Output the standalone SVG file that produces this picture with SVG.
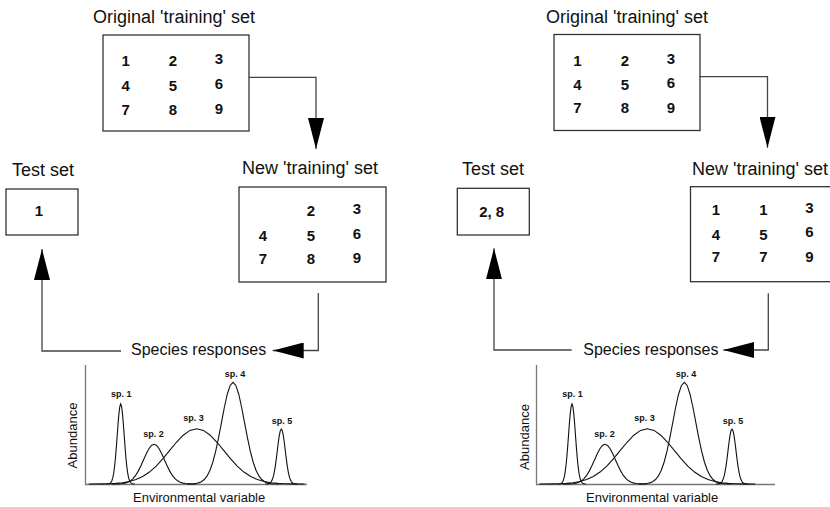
<svg xmlns="http://www.w3.org/2000/svg" xmlns:xlink="http://www.w3.org/1999/xlink" width="830" height="507" viewBox="0 0 830 507">
<style>
text{font-family:"Liberation Sans",Arial,Helvetica,sans-serif;fill:#111}
.title{font-size:18px}
.num{font-size:15px;font-weight:bold;text-anchor:middle}
.sr{font-size:16px}
.ax{font-size:13px}
.sp{font-size:9px;font-weight:bold}
.box{fill:#fff;stroke:#333;stroke-width:1.3}
.conn{fill:none;stroke:#444;stroke-width:1.3}
.axis{fill:none;stroke:#777;stroke-width:1.3}
.curve{fill:none;stroke:#111;stroke-width:1.1}
</style>
<defs>
<marker id="arrow" markerUnits="userSpaceOnUse" viewBox="0 0 31 16" markerWidth="31" markerHeight="16" refX="31" refY="8" orient="auto">
<path d="M0,0 L31,8 L0,16 z" fill="#000"/>
</marker>
<path id="gauss" vector-effect="non-scaling-stroke" d="M-4,0 L-3.5,-0.0022 L-3.25,-0.0051 L-3,-0.0111 L-2.75,-0.0228 L-2.5,-0.0439 L-2.25,-0.0796 L-2,-0.1353 L-1.75,-0.2163 L-1.5,-0.3247 L-1.25,-0.4578 L-1,-0.6065 L-0.75,-0.7548 L-0.5,-0.8825 L-0.25,-0.9692 L0,-1 L0.25,-0.9692 L0.5,-0.8825 L0.75,-0.7548 L1,-0.6065 L1.25,-0.4578 L1.5,-0.3247 L1.75,-0.2163 L2,-0.1353 L2.25,-0.0796 L2.5,-0.0439 L2.75,-0.0228 L3,-0.0111 L3.25,-0.0051 L3.5,-0.0022 L4,0"/>
</defs>

<!-- LEFT PANEL -->
<g id="left-panel">
<g id="orig-L">
<text class="title" x="93" y="23">Original 'training' set</text>
<rect class="box" x="103" y="35" width="146" height="96"/>
<text class="num" x="125.7" y="66">1</text><text class="num" x="173" y="66">2</text><text class="num" x="219" y="64">3</text>
<text class="num" x="125.7" y="91">4</text><text class="num" x="173" y="91">5</text><text class="num" x="219" y="89">6</text>
<text class="num" x="125.7" y="114.5">7</text><text class="num" x="173" y="114.5">8</text><text class="num" x="219" y="113.5">9</text>
</g>
<g id="test-L">
<text class="title" x="12" y="176">Test set</text>
<rect class="box" x="6" y="189" width="72" height="46"/>
<text class="num" x="39" y="216">1</text>
</g>
<g id="new-L">
<text class="title" x="242" y="174">New 'training' set</text>
<rect class="box" x="239" y="187" width="147" height="95"/>
<text class="num" x="311" y="216">2</text><text class="num" x="357" y="214">3</text>
<text class="num" x="263" y="241">4</text><text class="num" x="311" y="241">5</text><text class="num" x="357" y="239">6</text>
<text class="num" x="263" y="264">7</text><text class="num" x="311" y="264">8</text><text class="num" x="357" y="263">9</text>
</g>
<g id="species-L">
<text class="sr" x="131" y="355">Species responses</text>
</g>
<g id="plot-L">
<path class="axis" d="M85.5,365 V484.5 H307"/>
<text class="ax" transform="translate(76.5,435.5) rotate(-90)" text-anchor="middle">Abundance</text>
<text class="ax" x="133" y="501.5">Environmental variable</text>
<use xlink:href="#gauss" class="curve" transform="translate(120.7,484) scale(3.5,80)"/>
<use xlink:href="#gauss" class="curve" transform="translate(154,484) scale(10.5,39.7)"/>
<use xlink:href="#gauss" class="curve" transform="translate(196.7,484) scale(27,55.3)"/>
<use xlink:href="#gauss" class="curve" transform="translate(233,484) scale(11.5,101.7)"/>
<use xlink:href="#gauss" class="curve" transform="translate(281.3,484) scale(4,55)"/>
<text class="sp" x="111" y="397">sp. 1</text>
<text class="sp" x="143.3" y="437">sp. 2</text>
<text class="sp" x="183.3" y="421">sp. 3</text>
<text class="sp" x="224.7" y="377">sp. 4</text>
<text class="sp" x="271.7" y="424">sp. 5</text>
</g>
<g id="connectors-L">
<path class="conn" d="M249,77.3 H316 V149" marker-end="url(#arrow)"/>
<path class="conn" d="M318.3,293 V350.5 H272.7" marker-end="url(#arrow)"/>
<path class="conn" d="M121,351 H42 V249" marker-end="url(#arrow)"/>
</g>
</g>

<!-- RIGHT PANEL -->
<g id="right-panel" transform="translate(451,0)">
<g id="orig-R">
<text class="title" x="95" y="23">Original 'training' set</text>
<rect class="box" x="103" y="34.5" width="146" height="96"/>
<text class="num" x="126.5" y="65.5">1</text><text class="num" x="174" y="65.5">2</text><text class="num" x="220" y="64">3</text>
<text class="num" x="126.5" y="90">4</text><text class="num" x="174" y="90">5</text><text class="num" x="220" y="88">6</text>
<text class="num" x="126.5" y="113">7</text><text class="num" x="174" y="113">8</text><text class="num" x="220" y="112.5">9</text>
</g>
<g id="test-R">
<text class="title" x="11" y="175">Test set</text>
<rect class="box" x="6.3" y="188.3" width="72" height="46.7"/>
<text class="num" x="40.7" y="216.5">2, 8</text>
</g>
<g id="new-R">
<text class="title" x="241" y="174.5">New 'training' set</text>
<rect class="box" x="239.5" y="186.7" width="147" height="95"/>
<text class="num" x="265" y="215">1</text><text class="num" x="312.3" y="215">1</text><text class="num" x="358.3" y="213">3</text>
<text class="num" x="265" y="239.5">4</text><text class="num" x="312.3" y="239.5">5</text><text class="num" x="358.3" y="237">6</text>
<text class="num" x="265" y="262">7</text><text class="num" x="312.3" y="262">7</text><text class="num" x="358.3" y="262">9</text>
</g>
<g id="species-R">
<text class="sr" x="132.3" y="354.5">Species responses</text>
</g>
<g id="plot-R">
<path class="axis" d="M85.5,365 V484.5 H324"/>
<text class="ax" transform="translate(77.5,437) rotate(-90)" text-anchor="middle">Abundance</text>
<text class="ax" x="135" y="501.5">Environmental variable</text>
<use xlink:href="#gauss" class="curve" transform="translate(121,484) scale(3.5,80)"/>
<use xlink:href="#gauss" class="curve" transform="translate(154,484) scale(10.5,39.7)"/>
<use xlink:href="#gauss" class="curve" transform="translate(196.3,484) scale(27,55.3)"/>
<use xlink:href="#gauss" class="curve" transform="translate(233.3,484) scale(11.5,101.7)"/>
<use xlink:href="#gauss" class="curve" transform="translate(281,484) scale(4,55)"/>
<text class="sp" x="111.3" y="397">sp. 1</text>
<text class="sp" x="143.3" y="437">sp. 2</text>
<text class="sp" x="183.3" y="421">sp. 3</text>
<text class="sp" x="224.7" y="377">sp. 4</text>
<text class="sp" x="271.7" y="424">sp. 5</text>
</g>
<g id="connectors-R">
<path class="conn" d="M248.3,76.7 H316.5 V147.7" marker-end="url(#arrow)"/>
<path class="conn" d="M317.3,293.3 V350 H272.3" marker-end="url(#arrow)"/>
<path class="conn" d="M120.7,350 H43 V248.3" marker-end="url(#arrow)"/>
</g>
</g>
</svg>
